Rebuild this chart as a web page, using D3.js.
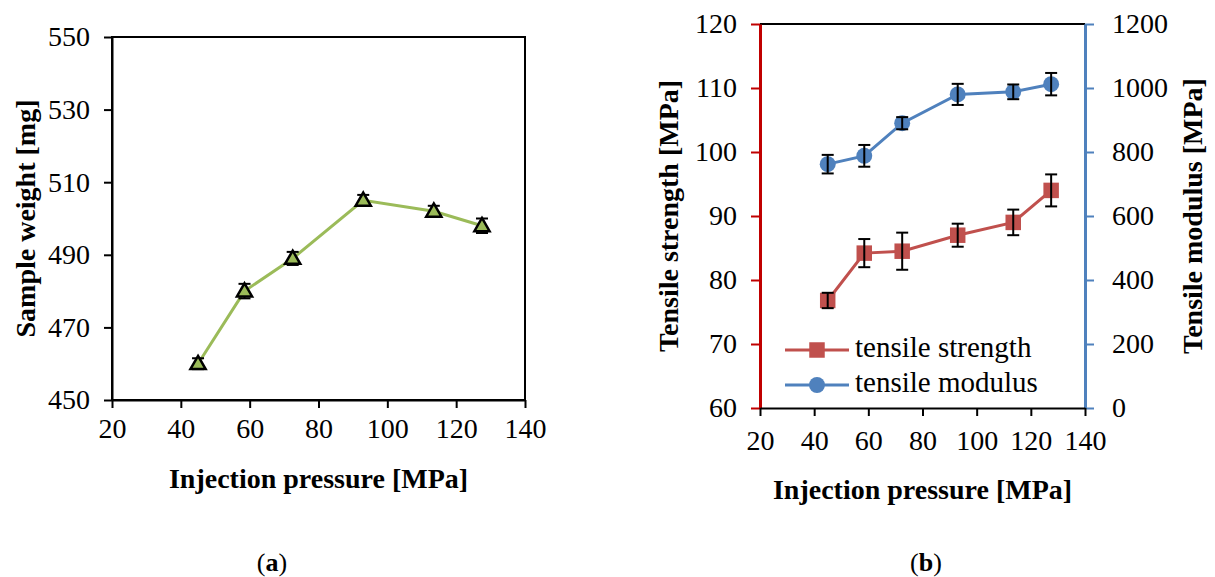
<!DOCTYPE html>
<html>
<head>
<meta charset="utf-8">
<script src="https://cdn.jsdelivr.net/npm/d3@7"></script>
<style>
  body { margin: 0; background: #fff; }
  svg text { font-family: 'Liberation Serif', 'Times New Roman', 'DejaVu Serif', serif; }
</style>
</head>
<body>
<div id="chart"></div>
<script>
// data
const pressure = [45, 58.5, 72.5, 93, 113.5, 127.5]
const weight = [460, 480, 489, 505, 502, 498]
const weightErr = [1.5, 2, 1.8, 1.5, 1.5, 2]
const strength = [76.8, 84.2, 84.5, 87, 89, 94]
const strengthErr = [1.2, 2.2, 2.9, 1.8, 2, 2.5]
const modulus = [762, 788, 890, 980, 988, 1012]
const modulusErr = [29, 34, 19, 33, 23, 35]
const xTicks = [20, 40, 60, 80, 100, 120, 140]
const weightTicks = [450, 470, 490, 510, 530, 550]
const strengthTicks = [60, 70, 80, 90, 100, 110, 120]
const modulusTicks = [0, 200, 400, 600, 800, 1000, 1200]

const W = 1215
const H = 577
const FONT = "'Liberation Serif', 'Times New Roman', 'DejaVu Serif', serif"
const svg = d3.select('#chart').append('svg')
  .attr('width', W).attr('height', H)
  .attr('font-family', FONT)

const tickFont = 28
const titleFont = 28

function styleAxis (a, color, width) {
  a.attr('font-family', FONT).attr('font-size', tickFont)
  a.select('.domain').attr('stroke', color).attr('stroke-width', width)
  a.selectAll('.tick line').attr('stroke', color).attr('stroke-width', 2)
  a.selectAll('.tick text').attr('fill', '#000')
}

// ---------- chart (a) ----------
const xa = d3.scaleLinear().domain([20, 140]).range([112, 525])
const ya = d3.scaleLinear().domain([450, 550]).range([400, 37])

const ga = svg.append('g')
ga.append('rect')
  .attr('x', xa(20)).attr('y', ya(550))
  .attr('width', xa(140) - xa(20)).attr('height', ya(450) - ya(550))
  .attr('fill', 'none').attr('stroke', '#000').attr('stroke-width', 2)

const axA = ga.append('g').attr('transform', `translate(0,${ya(450)})`)
  .call(d3.axisBottom(xa).tickValues(xTicks).tickSize(8).tickSizeOuter(0).tickPadding(10))
const ayA = ga.append('g').attr('transform', `translate(${xa(20)},0)`)
  .call(d3.axisLeft(ya).tickValues(weightTicks).tickSize(8).tickSizeOuter(0).tickPadding(14))
styleAxis(axA, '#000', 2)
styleAxis(ayA, '#000', 2)

const weightData = pressure.map((p, i) => ({ x: p, y: weight[i], e: weightErr[i] }))
ga.append('path').datum(weightData)
  .attr('fill', 'none').attr('stroke', '#9bbb59').attr('stroke-width', 3)
  .attr('d', d3.line().x(d => xa(d.x)).y(d => ya(d.y)))

const errA = ga.append('g').attr('stroke', '#000').attr('stroke-width', 2)
weightData.forEach(d => {
  errA.append('line').attr('x1', xa(d.x)).attr('x2', xa(d.x))
    .attr('y1', ya(d.y - d.e)).attr('y2', ya(d.y + d.e))
  errA.append('line').attr('x1', xa(d.x) - 6).attr('x2', xa(d.x) + 6)
    .attr('y1', ya(d.y + d.e)).attr('y2', ya(d.y + d.e))
  errA.append('line').attr('x1', xa(d.x) - 6).attr('x2', xa(d.x) + 6)
    .attr('y1', ya(d.y - d.e)).attr('y2', ya(d.y - d.e))
})

ga.append('g').selectAll('path').data(weightData).join('path')
  .attr('transform', d => `translate(${xa(d.x)},${ya(d.y) + 1})`)
  .attr('d', d3.symbol(d3.symbolTriangle, 100))
  .attr('fill', '#9bbb59').attr('stroke', '#000').attr('stroke-width', 2.5)

ga.append('text')
  .attr('transform', `translate(29,${(ya(450) + ya(550)) / 2}) rotate(-90)`)
  .attr('text-anchor', 'middle').attr('dominant-baseline', 'middle')
  .attr('font-size', titleFont).attr('font-weight', 'bold')
  .text('Sample weight [mg]')
ga.append('text')
  .attr('x', (xa(20) + xa(140)) / 2).attr('y', 488)
  .attr('text-anchor', 'middle')
  .attr('font-size', titleFont).attr('font-weight', 'bold')
  .text('Injection pressure [MPa]')

// ---------- chart (b) ----------
const xb = d3.scaleLinear().domain([20, 140]).range([760, 1085])
const yb = d3.scaleLinear().domain([60, 120]).range([408, 24])
const yb2 = d3.scaleLinear().domain([0, 1200]).range([408, 24])

const gb = svg.append('g')
gb.append('line')
  .attr('x1', xb(20)).attr('x2', xb(140)).attr('y1', yb(120)).attr('y2', yb(120))
  .attr('stroke', '#000').attr('stroke-width', 2)

const ayB = gb.append('g').attr('transform', `translate(${xb(20)},0)`)
  .call(d3.axisLeft(yb).tickValues(strengthTicks).tickSize(9).tickSizeOuter(0).tickPadding(14))
const ayB2 = gb.append('g').attr('transform', `translate(${xb(140)},0)`)
  .call(d3.axisRight(yb2).tickValues(modulusTicks).tickFormat(d3.format('d')).tickSize(9).tickSizeOuter(0).tickPadding(18))
const axB = gb.append('g').attr('transform', `translate(0,${yb(60)})`)
  .call(d3.axisBottom(xb).tickValues(xTicks).tickSize(8).tickSizeOuter(0).tickPadding(14))
styleAxis(ayB, '#c00000', 3)
styleAxis(ayB2, '#4f81bd', 3)
styleAxis(axB, '#000', 2)

const strengthData = pressure.map((p, i) => ({ x: p, y: strength[i], e: strengthErr[i] }))
const modulusData = pressure.map((p, i) => ({ x: p, y: modulus[i], e: modulusErr[i] }))

function drawSeries (data, yScale, color, symbol, size) {
  gb.append('path').datum(data)
    .attr('fill', 'none').attr('stroke', color).attr('stroke-width', 3)
    .attr('d', d3.line().x(d => xb(d.x)).y(d => yScale(d.y)))
  gb.append('g').selectAll('path').data(data).join('path')
    .attr('transform', d => `translate(${xb(d.x)},${yScale(d.y)})`)
    .attr('d', d3.symbol(symbol, size))
    .attr('fill', color)
  const err = gb.append('g').attr('stroke', '#000').attr('stroke-width', 2)
  data.forEach(d => {
    err.append('line').attr('x1', xb(d.x)).attr('x2', xb(d.x))
      .attr('y1', yScale(d.y - d.e)).attr('y2', yScale(d.y + d.e))
    err.append('line').attr('x1', xb(d.x) - 6).attr('x2', xb(d.x) + 6)
      .attr('y1', yScale(d.y + d.e)).attr('y2', yScale(d.y + d.e))
    err.append('line').attr('x1', xb(d.x) - 6).attr('x2', xb(d.x) + 6)
      .attr('y1', yScale(d.y - d.e)).attr('y2', yScale(d.y - d.e))
  })
}
drawSeries(strengthData, yb, '#c0504d', d3.symbolSquare, 240)
drawSeries(modulusData, yb2, '#4f81bd', d3.symbolCircle, 200)

// legend
const legend = [
  { label: 'tensile strength', color: '#c0504d', symbol: d3.symbolSquare, size: 240 },
  { label: 'tensile modulus', color: '#4f81bd', symbol: d3.symbolCircle, size: 200 }
]
const lg = gb.append('g').selectAll('g').data(legend).join('g')
  .attr('transform', (d, i) => `translate(785,${350 + i * 35})`)
lg.append('line').attr('x1', 0).attr('x2', 64)
  .attr('stroke', d => d.color).attr('stroke-width', 3)
lg.append('path').attr('transform', 'translate(32,0)')
  .attr('d', d => d3.symbol(d.symbol, d.size)())
  .attr('fill', d => d.color)
lg.append('text').attr('x', 70).attr('y', 0)
  .attr('dominant-baseline', 'middle')
  .attr('font-size', 29)
  .text(d => d.label)

gb.append('text')
  .attr('transform', `translate(672,${(yb(60) + yb(120)) / 2}) rotate(-90)`)
  .attr('text-anchor', 'middle').attr('dominant-baseline', 'middle')
  .attr('font-size', titleFont).attr('font-weight', 'bold')
  .text('Tensile strength [MPa]')
gb.append('text')
  .attr('transform', `translate(1196,${(yb(60) + yb(120)) / 2}) rotate(-90)`)
  .attr('text-anchor', 'middle').attr('dominant-baseline', 'middle')
  .attr('font-size', titleFont).attr('font-weight', 'bold')
  .text('Tensile modulus [MPa]')
gb.append('text')
  .attr('x', (xb(20) + xb(140)) / 2).attr('y', 499)
  .attr('text-anchor', 'middle')
  .attr('font-size', titleFont).attr('font-weight', 'bold')
  .text('Injection pressure [MPa]')

// captions
const captions = [{ t: 'a', x: 272 }, { t: 'b', x: 926 }]
const cap = svg.append('g').selectAll('text').data(captions).join('text')
  .attr('x', d => d.x).attr('y', 571)
  .attr('text-anchor', 'middle').attr('font-size', 26)
cap.append('tspan').text('(')
cap.append('tspan').attr('font-weight', 'bold').text(d => d.t)
cap.append('tspan').text(')')
</script>
</body>
</html>
